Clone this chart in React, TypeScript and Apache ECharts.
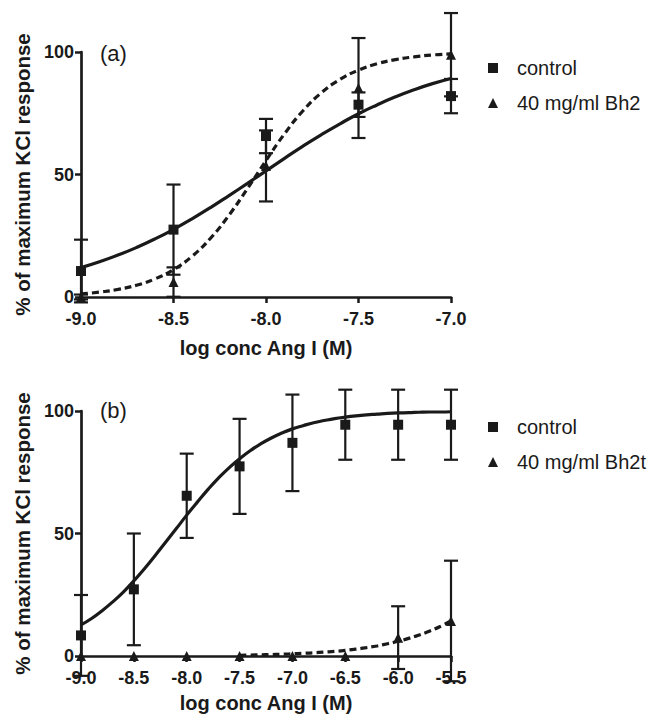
import React, { useEffect, useRef } from "react";
import * as echarts from "echarts";

// ---------- Panel (a) data ----------
const xA = [-9.0, -8.5, -8.0, -7.5, -7.0];
const controlA = [10.6, 27.5, 65.7, 78.5, 82.0];
const controlAErr = [12.8, 18.4, 7.0, 5.0, 7.0];
const bh2A = [0.0, 6.1, 53.5, 85.3, 98.9];
const bh2AErr = [1.0, 6.0, 14.5, 20.4, 17.0];

const curveXA = [-9.0, -8.9, -8.8, -8.7, -8.6, -8.5, -8.4, -8.3, -8.2, -8.1, -8.0, -7.9, -7.8, -7.7, -7.6, -7.5, -7.4, -7.3, -7.2, -7.1, -7.0];
const fitControlA = [12.0, 14.4, 17.1, 20.2, 23.7, 27.6, 31.9, 36.5, 41.4, 46.4, 51.5, 56.6, 61.6, 66.3, 70.7, 74.8, 78.4, 81.7, 84.6, 87.1, 89.2];
const fitBh2A = [1.2, 2.0, 3.1, 4.8, 7.4, 11.2, 16.6, 24.0, 33.4, 44.3, 55.7, 66.6, 76.0, 83.4, 88.8, 92.6, 95.2, 96.9, 98.0, 98.8, 99.2];

// ---------- Panel (b) data ----------
const xB = [-9.0, -8.5, -8.0, -7.5, -7.0, -6.5, -6.0, -5.5];
const controlB = [8.4, 27.2, 65.4, 77.4, 87.0, 94.4, 94.4, 94.4];
const controlBErr = [16.5, 22.8, 17.2, 19.4, 19.7, 14.3, 14.3, 14.3];
const bh2tB = [0, 0, 0, 0, 0, 0, 7.5, 14.3];
const bh2tBErr = [0, 0, 0, 0, 0, 0, 12.8, 24.6];

const curveXB = [-9.0, -8.9, -8.8, -8.7, -8.6, -8.5, -8.4, -8.3, -8.2, -8.1, -8.0, -7.9, -7.8, -7.7, -7.6, -7.5, -7.4, -7.3, -7.2, -7.1, -7.0, -6.9, -6.8, -6.7, -6.6, -6.5, -6.4, -6.3, -6.2, -6.1, -6.0, -5.9, -5.8, -5.7, -5.6, -5.5];
const fitControlB = [12.7, 15.3, 18.5, 22.1, 26.1, 30.7, 35.6, 40.9, 46.4, 51.9, 57.5, 62.8, 67.9, 72.6, 76.8, 80.5, 83.8, 86.6, 89.0, 91.0, 92.7, 94.0, 95.2, 96.1, 96.9, 97.5, 98.0, 98.4, 98.7, 99.0, 99.2, 99.3, 99.5, 99.6, 99.6, 99.7];
const curveXB2 = [-7.5, -7.4, -7.3, -7.2, -7.1, -7.0, -6.9, -6.8, -6.7, -6.6, -6.5, -6.4, -6.3, -6.2, -6.1, -6.0, -5.9, -5.8, -5.7, -5.6, -5.5];
const fitBh2tB = [0.3, 0.4, 0.5, 0.6, 0.7, 0.9, 1.1, 1.3, 1.6, 1.9, 2.3, 2.8, 3.4, 4.1, 5.0, 6.0, 7.2, 8.6, 10.2, 12.1, 14.3];

const yTicks = { min: 0, max: 100, interval: 50 };
const axisNameX = "log conc Ang I (M)";
const axisNameY = "% of maximum KCl response";
const legendA = ["control", "40 mg/ml Bh2"];
const legendB = ["control", "40 mg/ml Bh2t"];

const INK = "#1a1a1a";
const FONT = "'Liberation Sans', Arial, Helvetica, sans-serif";

const zip = (xs: number[], ys: number[]) => xs.map((x, i) => [x, ys[i]]);
const zip3 = (xs: number[], ys: number[], es: number[]) => xs.map((x, i) => [x, ys[i], es[i]]);

function errorRender(params: any, api: any) {
  const x = api.value(0);
  const y = api.value(1);
  const e = api.value(2);
  if (!e) return { type: "group", children: [] };
  const top = api.coord([x, y + e]);
  const bot = api.coord([x, y - e]);
  const cap = 7;
  const style = { stroke: INK, lineWidth: 2.2 };
  return {
    type: "group",
    children: [
      { type: "line", shape: { x1: top[0], y1: top[1], x2: bot[0], y2: bot[1] }, style },
      { type: "line", shape: { x1: top[0] - cap, y1: top[1], x2: top[0] + cap, y2: top[1] }, style },
      { type: "line", shape: { x1: bot[0] - cap, y1: bot[1], x2: bot[0] + cap, y2: bot[1] }, style },
    ],
  };
}

function makeXAxis(gridIndex: number, min: number, max: number, nameGap: number) {
  return {
    type: "value",
    gridIndex,
    min,
    max,
    interval: 0.5,
    name: axisNameX,
    nameLocation: "middle",
    nameGap,
    nameTextStyle: { fontSize: 20, fontWeight: "bold", color: INK, fontFamily: FONT },
    axisLine: { lineStyle: { color: INK, width: 2.7 } },
    axisTick: { length: 6, lineStyle: { color: INK, width: 2.5 } },
    axisLabel: {
      fontSize: 18,
      fontWeight: "bold",
      color: INK,
      fontFamily: FONT,
      margin: 13,
      formatter: (v: number) => v.toFixed(1),
    },
    splitLine: { show: false },
  };
}

function makeYAxis(gridIndex: number) {
  return {
    type: "value",
    gridIndex,
    ...yTicks,
    name: axisNameY,
    nameLocation: "middle",
    nameGap: 47,
    nameTextStyle: { fontSize: 20.5, fontWeight: "bold", color: INK, fontFamily: FONT },
    axisLine: { show: true, lineStyle: { color: INK, width: 2.7 } },
    axisTick: { show: true, length: 6, lineStyle: { color: INK, width: 2.5 } },
    axisLabel: { fontSize: 18, fontWeight: "bold", color: INK, fontFamily: FONT, margin: 7 },
    splitLine: { show: false },
  };
}

function makeLegend(top: number, names: string[]) {
  return {
    orient: "vertical",
    left: 483,
    top,
    itemWidth: 10,
    itemHeight: 10,
    itemGap: 15,
    selectedMode: false,
    textStyle: { fontSize: 20, color: INK, fontFamily: FONT, padding: [0, 0, 0, 14] },
    itemStyle: { opacity: 1 },
    data: [
      { name: names[0], icon: "rect" },
      { name: names[1], icon: "triangle" },
    ],
  };
}

const markerStyle = { color: INK, opacity: 1 };

export default function App() {
  const ref = useRef<HTMLDivElement>(null);

  useEffect(() => {
    if (!ref.current) return;
    const chart = echarts.init(ref.current, null, { renderer: "svg" });
    const option: any = {
      animation: false,
      backgroundColor: "#ffffff",
      textStyle: { fontFamily: FONT },
      grid: [
        { left: 81, top: 52, width: 370, height: 245 },
        { left: 81, top: 411, width: 370, height: 245 },
      ],
      xAxis: [makeXAxis(0, -9, -7, 41), makeXAxis(1, -9, -5.5, 37)],
      yAxis: [makeYAxis(0), makeYAxis(1)],
      legend: [makeLegend(53, legendA), makeLegend(412, legendB)],
      graphic: [
        { type: "text", left: 100, top: 42, style: { text: "(a)", fontSize: 22, fill: INK, fontFamily: FONT } },
        { type: "text", left: 100, top: 399, style: { text: "(b)", fontSize: 22, fill: INK, fontFamily: FONT } },
      ],
      series: [
        // Panel (a)
        {
          name: "control fit a", type: "line", xAxisIndex: 0, yAxisIndex: 0, data: zip(curveXA, fitControlA),
          smooth: true, showSymbol: false, lineStyle: { color: INK, width: 3.2 }, z: 3,
        },
        {
          name: "Bh2 fit a", type: "line", xAxisIndex: 0, yAxisIndex: 0, data: zip(curveXA, fitBh2A),
          smooth: true, showSymbol: false, lineStyle: { color: INK, width: 3.2, type: [7, 4] }, z: 3,
        },
        {
          name: "control err a", type: "custom", xAxisIndex: 0, yAxisIndex: 0, clip: false,
          data: zip3(xA, controlA, controlAErr), renderItem: errorRender, z: 4,
        },
        {
          name: "Bh2 err a", type: "custom", xAxisIndex: 0, yAxisIndex: 0, clip: false,
          data: zip3(xA, bh2A, bh2AErr), renderItem: errorRender, z: 4,
        },
        {
          name: legendA[0], type: "scatter", xAxisIndex: 0, yAxisIndex: 0, data: zip(xA, controlA),
          symbol: "rect", symbolSize: 10, itemStyle: markerStyle, z: 5, clip: false,
        },
        {
          name: legendA[1], type: "scatter", xAxisIndex: 0, yAxisIndex: 0, data: zip(xA, bh2A),
          symbol: "triangle", symbolSize: 10, itemStyle: markerStyle, z: 5, clip: false,
        },
        // Panel (b)
        {
          name: "control fit b", type: "line", xAxisIndex: 1, yAxisIndex: 1, data: zip(curveXB, fitControlB),
          smooth: true, showSymbol: false, lineStyle: { color: INK, width: 3.2 }, z: 3,
        },
        {
          name: "Bh2t fit b", type: "line", xAxisIndex: 1, yAxisIndex: 1, data: zip(curveXB2, fitBh2tB),
          smooth: true, showSymbol: false, lineStyle: { color: INK, width: 3.2, type: [7, 4] }, z: 3,
        },
        {
          name: "control err b", type: "custom", xAxisIndex: 1, yAxisIndex: 1, clip: false,
          data: zip3(xB, controlB, controlBErr), renderItem: errorRender, z: 4,
        },
        {
          name: "Bh2t err b", type: "custom", xAxisIndex: 1, yAxisIndex: 1, clip: false,
          data: zip3(xB, bh2tB, bh2tBErr), renderItem: errorRender, z: 4,
        },
        {
          name: legendB[0], type: "scatter", xAxisIndex: 1, yAxisIndex: 1, data: zip(xB, controlB),
          symbol: "rect", symbolSize: 10, itemStyle: markerStyle, z: 5, clip: false,
        },
        {
          name: legendB[1], type: "scatter", xAxisIndex: 1, yAxisIndex: 1, data: zip(xB, bh2tB),
          symbol: "triangle", symbolSize: 10, itemStyle: markerStyle, z: 5, clip: false,
        },
      ],
    };
    chart.setOption(option);
    return () => chart.dispose();
  }, []);

  return (
    <div
      ref={ref}
      style={{ position: "fixed", left: 0, top: 0, width: 647, height: 717, background: "#fff" }}
    />
  );
}
